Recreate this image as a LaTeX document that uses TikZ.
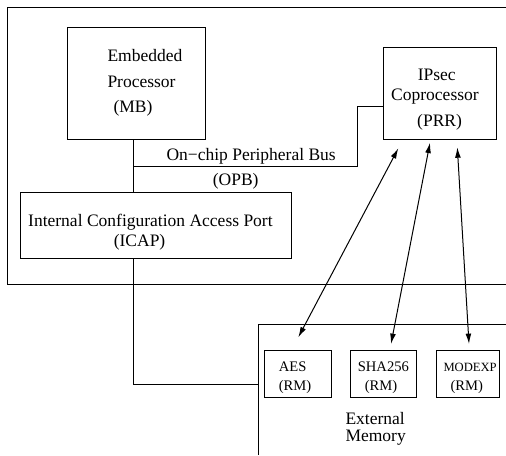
\documentclass[tikz,border=0pt]{standalone}
\usepackage{fontspec}
\setmainfont{Liberation Serif}
\usetikzlibrary{fit,arrows.meta}
\begin{document}
\begin{tikzpicture}[x=0.5pt,y=-0.5pt,line width=0.5pt,
                    >={Latex[length=5.2pt,width=2.9pt]}]
    \tikzstyle{boite}=[draw,inner sep=0pt]
    \tikzstyle{texte}=[anchor=base west,inner sep=0pt,font=\fontsize{8.75}{10}\selectfont]
    \tikzstyle{petit}=[anchor=base west,inner sep=0pt,font=\fontsize{7.3}{8}\selectfont]
    \useasboundingbox (0,0) rectangle (506,455);
    % FPGA and external memory outlines, both open on the right
    \draw (506,7.3) -- (7,7.3) -- (7,284.5) -- (506,284.5);
    \draw (258.3,455) -- (258.3,324.5) -- (506,324.5);
    % blocks
    \node[boite,fit={(67,27.7) (205.5,139.5)}] (mb) {};
    \node[boite,fit={(383.7,47.3) (496,139.3)}] (ipsec) {};
    \node[boite,fit={(20.7,192.7) (291.7,258.3)}] (icap) {};
    \node[boite,fit={(264.3,350.7) (331.3,397.3)}] (aes) {};
    \node[boite,fit={(350.7,350.7) (416.7,397.3)}] (sha) {};
    \node[boite,fit={(436,350.7) (499,397.3)}] (modexp) {};
    % labels
    \node[texte] (mb1) at (107,61.5) {Embedded};
    \node[texte] (mb2) at (107,87) {Processor};
    \node[texte] (mb3) at (113,112.5) {(MB)};
    \node[texte] (ip1) at (417.3,80) {IPsec};
    \node[texte] (ip2) at (390.7,100.3) {Coprocessor};
    \node[texte] (ip3) at (416.7,126.7) {(PRR)};
    \node[texte] (bus1) at (166,160) {On−chip Peripheral Bus};
    \node[texte] (bus2) at (212.3,185.7) {(OPB)};
    \node[texte] (icap1) at (27.7,226) {Internal Configuration Access Port};
    \node[texte] (icap2) at (113.3,246) {(ICAP)};
    \node[petit] (aes1) at (278.3,371) {AES};
    \node[petit] (aes2) at (278.3,390.7) {(RM)};
    \node[petit] (sha1) at (357.3,371) {SHA256};
    \node[petit] (sha2) at (364.3,390.7) {(RM)};
    \node[petit,font=\fontsize{6.3}{8}\selectfont] (mod1) at (443,371) {MODEXP};
    \node[petit] (mod2) at (450,390.7) {(RM)};
    \node[texte] (mem1) at (345,424) {External};
    \node[texte] (mem2) at (345,441.7) {Memory};
    % bus and configuration path
    \coordinate (opb) at (133.3,166);
    \coordinate (coude) at (357.3,106.7);
    \coordinate (memg) at (258.3,384.3);
    \draw (mb.south -| opb) -- (icap.north -| opb);
    \draw (opb) -| (coude) -- (coude -| ipsec.west);
    \draw (icap.south -| opb) |- (memg);
    % module loading
    \coordinate (p1) at (398.3,148.3);
    \coordinate (p2) at (430,142.7);
    \coordinate (p3) at (457.3,147.3);
    \coordinate (r1) at (298.3,337.3);
    \coordinate (r2) at (391,344);
    \coordinate (r3) at (469,344);
    \draw[<->] (p1) -- (r1);
    \draw[<->] (p2) -- (r2);
    \draw[<->] (p3) -- (r3);
\end{tikzpicture}
\end{document}
